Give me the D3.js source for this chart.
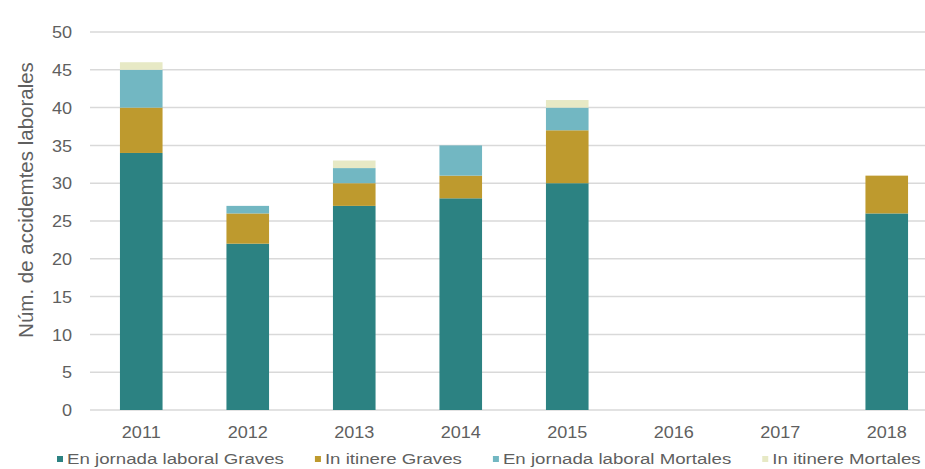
<!DOCTYPE html>
<html>
<head>
<meta charset="utf-8">
<script src="https://cdn.jsdelivr.net/npm/d3@7"></script>
<style>
  body { margin: 0; background: #fff; }
  svg { display: block; font-family: "Liberation Sans", Arial, sans-serif; }
</style>
</head>
<body>
<svg width="925" height="469"></svg>
<script>
// data
const years = ["2011", "2012", "2013", "2014", "2015", "2016", "2017", "2018"]
const series = ["En jornada laboral Graves", "In itinere Graves", "En jornada laboral Mortales", "In itinere Mortales"]
const jornadaGraves   = [34, 22, 27, 28, 30, 0, 0, 26]
const itinereGraves   = [6, 4, 3, 3, 7, 0, 0, 5]
const jornadaMortales = [5, 1, 2, 4, 3, 0, 0, 0]
const itinereMortales = [1, 0, 1, 0, 1, 0, 0, 0]
const yTicks = [0, 5, 10, 15, 20, 25, 30, 35, 40, 45, 50]

const colors = ["#2c8282", "#be9a2e", "#72b7c2", "#e7e9c5"]
const textColor = "#5f5f5f"
const sx = 1.13   // labels in the picture are a bit wide
const lsx = 1.205 // legend text is wider still

let rows = years.map(function(y, i){
  return {
    year: y,
    [series[0]]: jornadaGraves[i],
    [series[1]]: itinereGraves[i],
    [series[2]]: jornadaMortales[i],
    [series[3]]: itinereMortales[i]
  }
})

let stacked = d3.stack().keys(series)(rows)

const svg = d3.select("svg")

let x = d3.scaleBand()
  .domain(years)
  .range([88, 940])
  .paddingInner(0.6)
  .paddingOuter(0.3)

let y = d3.scaleLinear()
  .domain([0, 50])
  .range([410, 32])

// gridlines
svg.append("g")
    .attr("class", "grid")
  .selectAll("line")
  .data(yTicks)
  .enter().append("line")
    .attr("x1", 90)
    .attr("x2", 925)
    .attr("y1", function(d){ return y(d) })
    .attr("y2", function(d){ return y(d) })
    .attr("stroke", "#d9d9d9")
    .attr("stroke-width", 1.5)

// bars
svg.append("g")
  .selectAll("g")
  .data(stacked)
  .enter().append("g")
    .attr("fill", function(d, i){ return colors[i] })
  .selectAll("rect")
  .data(function(d){ return d })
  .enter().append("rect")
    .attr("x", function(d){ return x(d.data.year) })
    .attr("width", x.bandwidth())
    .attr("y", function(d){ return y(d[1]) })
    .attr("height", function(d){ return y(d[0]) - y(d[1]) })

// y axis
let yAxis = svg.append("g")
    .attr("transform", "translate(72,0)")
    .call(d3.axisLeft(y).tickValues(yTicks).tickSize(0).tickPadding(0))
yAxis.select(".domain").remove()
yAxis.selectAll("text")
    .attr("x", 0)
    .attr("transform", "scale(" + sx + ",1)")
    .attr("dy", "0.35em")
    .attr("fill", textColor)
    .style("font-size", "16px")
    .style("font-family", "'Liberation Sans', Arial, sans-serif")

// x axis
let xAxis = svg.append("g")
    .attr("transform", "translate(0,427)")
    .call(d3.axisBottom(x).tickSize(0).tickPadding(0))
xAxis.select(".domain").remove()
xAxis.selectAll("text")
    .attr("y", 0)
    .attr("dy", "0.71em")
    .attr("transform", "scale(" + sx + ",1)")
    .attr("fill", textColor)
    .style("font-size", "16px")
    .style("font-family", "'Liberation Sans', Arial, sans-serif")

// y title
svg.append("text")
    .attr("transform", "translate(33,200) rotate(-90)")
    .attr("text-anchor", "middle")
    .attr("fill", textColor)
    .style("font-size", "20.5px")
    .text("Núm. de accidemtes laborales")

// legend
let legend = svg.append("g").attr("transform", "translate(57,459)")
let lx = 0
series.forEach(function(s, i){
  let item = legend.append("g").attr("transform", "translate(" + lx + ",0)")
  item.append("rect")
      .attr("x", 0)
      .attr("y", -3)
      .attr("width", 6)
      .attr("height", 6)
      .attr("fill", colors[i])
  let t = item.append("g")
      .attr("transform", "translate(10,0) scale(" + lsx + ",1)")
    .append("text")
      .attr("dy", "0.35em")
      .attr("fill", textColor)
      .style("font-size", "15.5px")
      .text(s)
  lx += 10 + t.node().getComputedTextLength() * lsx + 31
})
</script>
</body>
</html>
